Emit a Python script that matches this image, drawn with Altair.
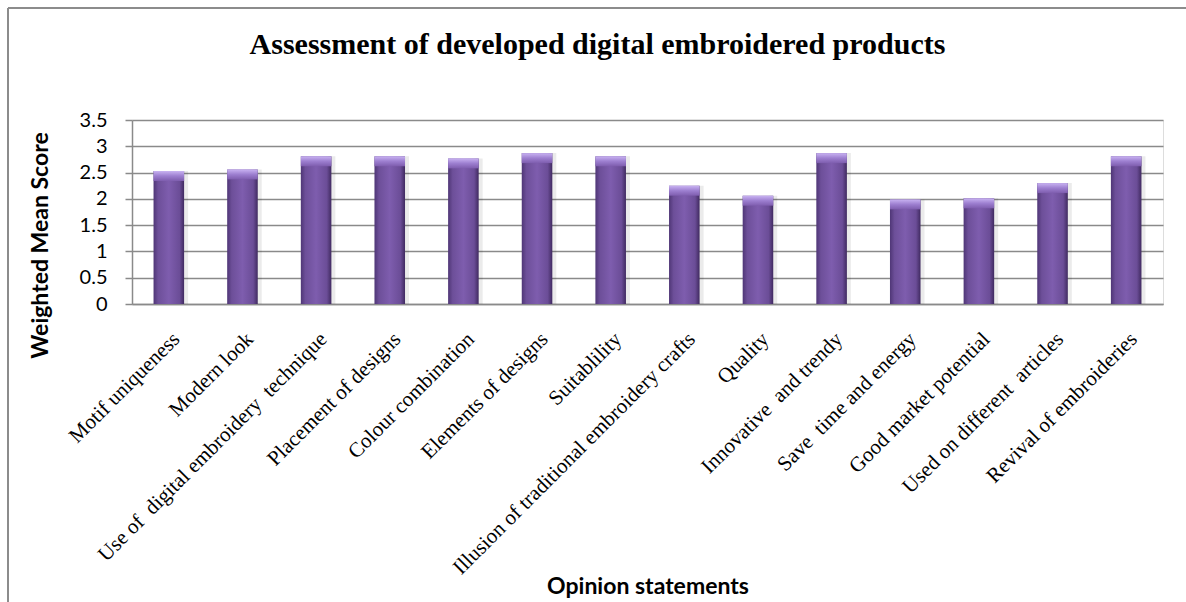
import altair as alt
import pandas as pd

categories = [
    "Motif uniqueness",
    "Modern look",
    "Use of\u00a0 digital embroidery\u00a0 technique",
    "Placement of designs",
    "Colour combination",
    "Elements of designs",
    "Suitablility",
    "Illusion of traditional embroidery crafts",
    "Quality",
    "Innovative\u00a0 and trendy",
    "Save\u00a0 time and energy",
    "Good market potential",
    "Used on different\u00a0 articles",
    "Revival of embroideries",
]
scores = [2.53, 2.56, 2.81, 2.81, 2.77, 2.87, 2.81, 2.25, 2.06, 2.87, 1.99, 2.01, 2.30, 2.81]
y_ticks = [0, 0.5, 1, 1.5, 2, 2.5, 3, 3.5]

df = pd.DataFrame({"statement": categories, "score": scores})
df["cap"] = df["score"] - 0.19

GRID = "#8a8a8a"

x_axis = alt.Axis(
    title="Opinion statements",
    labelAngle=315,
    labelAlign="right",
    labelBaseline="top",
    labelFont="Liberation Serif",
    labelFontSize=21,
    labelPadding=24,
    labelOffset=0,
    labelLimit=0,
    labelColor="black",
    ticks=False,
    domainColor=GRID,
    domainWidth=1.5,
    grid=False,
    titleFont="Lato",
    titleFontSize=23,
    titleFontWeight="bold",
    titleColor="black",
    titleY=289,
    titleBaseline="alphabetic",
)

y_axis = alt.Axis(
    title="Weighted Mean Score",
    values=y_ticks,
    format="~g",
    labelOverlap=False,
    labelFont="Lato",
    labelFontSize=20,
    labelColor="black",
    labelPadding=18,
    tickSize=7,
    tickColor=GRID,
    tickWidth=1.5,
    domainColor=GRID,
    domainWidth=1.5,
    grid=True,
    gridColor=GRID,
    gridWidth=1.5,
    titleFont="Lato",
    titleFontSize=23,
    titleFontWeight="bold",
    titleColor="black",
    titleX=-92,
    titleY=125,
    titleAlign="center",
    titleBaseline="middle",
    titleAngle=270,
)

y_scale = alt.Scale(domain=[0, 3.5], nice=False)
x_enc = alt.X("statement:N", sort=categories,
              scale=alt.Scale(paddingInner=0.585, paddingOuter=0.2925), axis=x_axis)
y_enc = alt.Y("score:Q", scale=y_scale, axis=y_axis)

base = alt.Chart(df)

shadow = base.mark_bar(color="#000000", opacity=0.08, xOffset=4).encode(x=x_enc, y=y_enc)

bars = base.mark_bar(
    color=alt.Gradient(
        gradient="linear",
        stops=[
            alt.GradientStop(color="#4f3676", offset=0),
            alt.GradientStop(color="#6d4f99", offset=0.15),
            alt.GradientStop(color="#7e5dae", offset=0.5),
            alt.GradientStop(color="#6b4d97", offset=0.85),
            alt.GradientStop(color="#402a60", offset=1),
        ],
        x1=0, x2=1, y1=0, y2=0,
    )
).encode(x=x_enc, y=y_enc)

caps = base.mark_bar(
    color=alt.Gradient(
        gradient="linear",
        stops=[
            alt.GradientStop(color="#c9b3f2", offset=0),
            alt.GradientStop(color="#9d7fd0", offset=0.5),
            alt.GradientStop(color="#7e5dae", offset=1),
        ],
        x1=0, x2=0, y1=0, y2=1,
    )
).encode(x=x_enc, y=alt.Y("cap:Q", scale=y_scale, axis=y_axis), y2=alt.Y2("score:Q"))

frame_df = pd.DataFrame({"k": [0]})
frame_left = alt.Chart(frame_df).mark_rule(color="#8c8c8c", strokeWidth=2).encode(
    x=alt.value(-124), y=alt.value(-112), y2=alt.value(482)
)
frame_top = alt.Chart(frame_df).mark_rule(color="#8c8c8c", strokeWidth=2).encode(
    x=alt.value(-124), x2=alt.value(1054), y=alt.value(-112)
)

chart = (
    alt.layer(shadow, bars, caps, frame_left, frame_top)
    .properties(
        width=1031,
        height=184,
        padding={"left": 132, "top": 120, "right": 23, "bottom": 298},
        autosize=alt.AutoSizeParams(type="none"),
        title=alt.TitleParams(
            "Assessment of developed digital embroidered products",
            font="Liberation Serif",
            fontSize=30,
            fontWeight="bold",
            color="black",
            anchor="middle",
            frame="group",
            dx=-50,
            offset=-53,
        ),
    )
    .configure_view(stroke="transparent", strokeWidth=0, strokeOpacity=0)
    .configure(background="white")
)

chart.save("out.html", embed_options={"renderer": "svg", "actions": False})
